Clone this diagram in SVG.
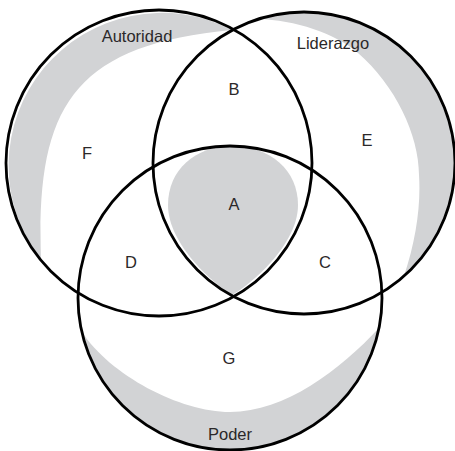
<svg xmlns="http://www.w3.org/2000/svg" width="455" height="451" viewBox="0 0 455 451">
  <style>
    .shade { fill: #d2d3d5; stroke: none; }
    .ring { fill: none; stroke: #000; stroke-width: 2.8; }
    .label { font-family: "Liberation Sans", Arial, sans-serif; font-size: 16.5px; fill: #2b2829; text-anchor: middle; }
  </style>
  <defs>
    <clipPath id="poder-clip">
      <circle cx="230" cy="298" r="152"/>
    </clipPath>
  </defs>
  <rect width="455" height="451" fill="#fff"/>

  <!-- shaded bands inside each circle -->
  <g id="shading">
    <path class="shade" d="M 41 260 C 36 110 70 45 232 30 A 153 153 0 0 0 41 260 Z"/>
    <path class="shade" d="M 258 19 A 151 151 0 0 1 404 276 C 416 240 421 205 419 175 C 419 135 395 85 358 53 C 335 33 295 20 258 19 Z"/>
    <path class="shade" d="M 82 332 C 110 375 180 412 230 412 C 285 412 340 370 379 328 A 152 152 0 0 1 82 332 Z"/>
    <path class="shade" clip-path="url(#poder-clip)" d="M 232 295 C 215 285 168 245 168 205 C 168 170 195 146 232 146 C 270 146 298 170 298 205 C 298 245 250 285 232 295 Z"/>
  </g>

  <g id="autoridad">
    <circle class="ring" cx="159" cy="163" r="153"/>
    <text class="label" x="137" y="42">Autoridad</text>
  </g>
  <g id="liderazgo">
    <circle class="ring" cx="304" cy="163" r="151"/>
    <text class="label" x="333" y="49">Liderazgo</text>
  </g>
  <g id="poder">
    <circle class="ring" cx="230" cy="298" r="152"/>
    <text class="label" x="230" y="440">Poder</text>
  </g>

  <!-- region letters -->
  <g id="region-a"><text class="label" x="234" y="210">A</text></g>
  <g id="region-b"><text class="label" x="234" y="95">B</text></g>
  <g id="region-c"><text class="label" x="325" y="268">C</text></g>
  <g id="region-d"><text class="label" x="131" y="268">D</text></g>
  <g id="region-e"><text class="label" x="367" y="146">E</text></g>
  <g id="region-f"><text class="label" x="87" y="159">F</text></g>
  <g id="region-g"><text class="label" x="229" y="364">G</text></g>
</svg>
